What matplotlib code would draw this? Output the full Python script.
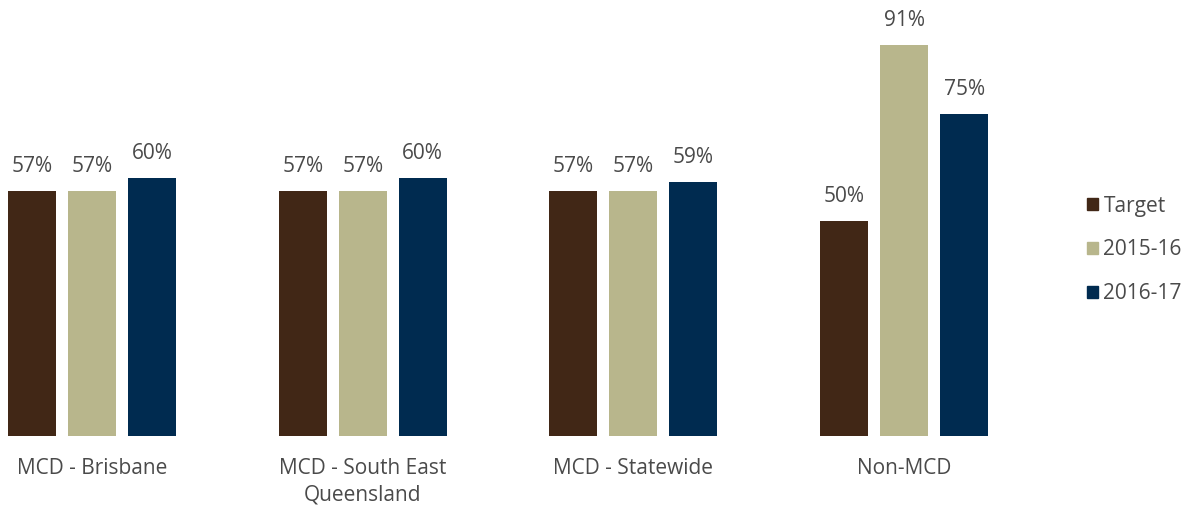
import numpy as np
import matplotlib
matplotlib.use("Agg")
import matplotlib.pyplot as plt
from matplotlib.patches import Patch

plt.rcParams.update({"font.family": ["Open Sans", "DejaVu Sans"]})

categories = ["MCD - Brisbane", "MCD - South East\nQueensland", "MCD - Statewide", "Non-MCD"]
series = ["Target", "2015-16", "2016-17"]
target = [57, 57, 57, 50]
fy1516 = [57, 57, 57, 91]
fy1617 = [60, 60, 59, 75]
colors = ["#412716", "#B8B68C", "#002B50"]
txt = "#4a4a4a"

W, H = 1192, 509
fig = plt.figure(figsize=(W / 100, H / 100), dpi=100)
ax = fig.add_axes([0, (H - 436) / H, 1050 / W, 436 / H])

x = np.arange(len(categories))
step = 60 / 270.7
bw = 48 / 270.7
for k, (vals, c) in enumerate(zip([target, fy1516, fy1617], colors)):
    bars = ax.bar(x + (k - 1) * step, vals, width=bw, color=c, label=series[k])
    for b, v in zip(bars, vals):
        ax.annotate("%d%%" % v, (b.get_x() + b.get_width() / 2, v),
                    xytext=(0, 10), textcoords="offset points",
                    ha="center", va="bottom", fontsize=15, color=txt)

ax.set_xlim(-92 / 270.7, (1050 - 92) / 270.7)
ax.set_ylim(0, 436 / 4.3)
ax.set_xticks(x)
ax.set_xticklabels(categories, fontsize=15, color=txt, linespacing=1.3)
ax.tick_params(axis="x", length=0, pad=16)
ax.set_yticks([])
for s in ax.spines.values():
    s.set_visible(False)

handles = [Patch(color=c, label=s) for c, s in zip(colors, series)]
fig.legend(handles=handles, loc="center left", bbox_to_anchor=(1068 / W, 1 - 250 / H),
           frameon=False, fontsize=15, labelcolor=txt, handlelength=0.55,
           handleheight=0.55, handletextpad=0.25, labelspacing=1.1)

fig.savefig("out.png", dpi=100, facecolor="white")
